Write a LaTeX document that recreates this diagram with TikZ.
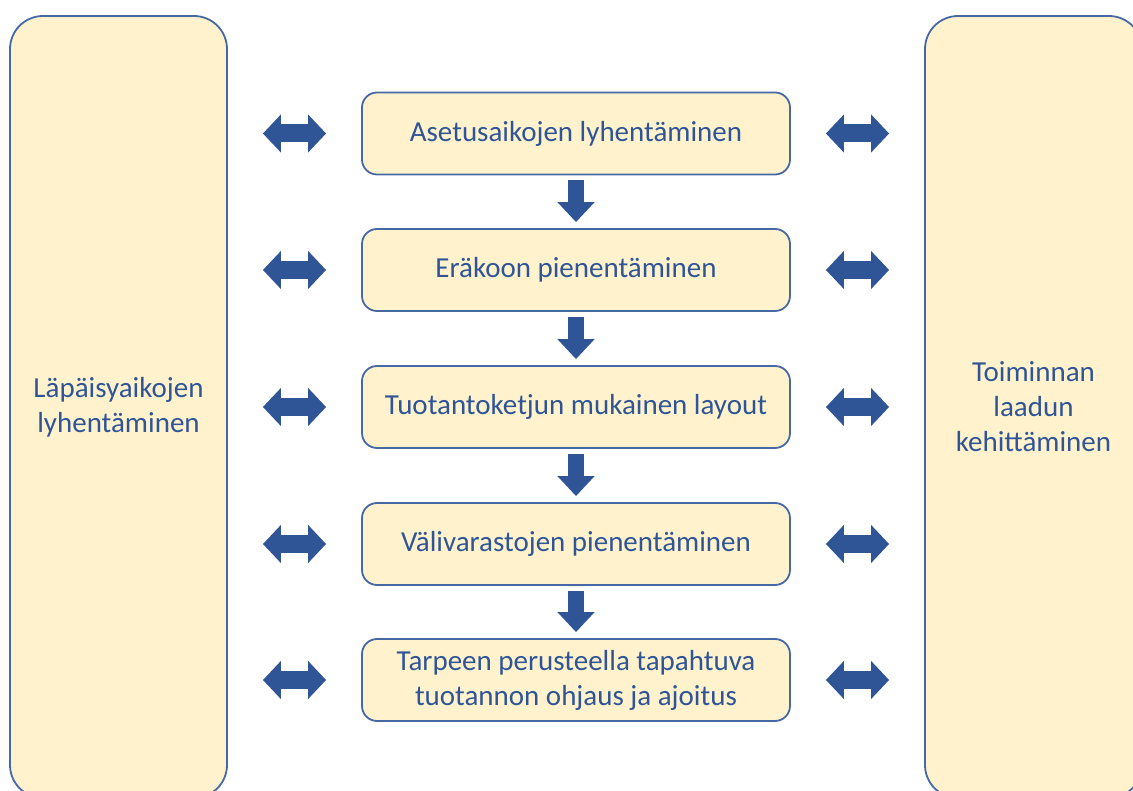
\documentclass[tikz,border=0pt]{standalone}
\usepackage{fontspec}
\setmainfont{Carlito}
\usetikzlibrary{arrows.meta}
\definecolor{boxfill}{HTML}{FFF2CC}
\definecolor{boxline}{RGB}{70,105,165}
\definecolor{txtblue}{HTML}{2F5597}
\definecolor{arrblue}{HTML}{2F5597}
\begin{document}
\begin{tikzpicture}[x=1pt,y=-1pt,
  sidebox/.style={draw=boxline,line width=1.8pt,fill=boxfill,rounded corners=33pt,
    minimum width=217pt,minimum height=782pt,inner sep=0pt,
    text=txtblue,align=center,font=\fontsize{29}{35}\selectfont},
  stepbox/.style={draw=boxline,line width=1.8pt,fill=boxfill,rounded corners=15pt,
    minimum width=428pt,minimum height=82pt,inner sep=0pt,
    text=txtblue,align=center,font=\fontsize{29}{35}\selectfont},
  downarrow/.style={draw=arrblue,line width=16pt,
    -{Triangle[width=36pt,length=20pt]},shorten <=5pt,shorten >=6pt},
  twoway/.style={draw=arrblue,line width=18pt,
    {Triangle[width=37pt,length=18pt]}-{Triangle[width=37pt,length=18pt]},
    shorten <=35pt,shorten >=35pt}]
\useasboundingbox (0,0) rectangle (1133,791);

% side columns
\node[sidebox] (L) at (118.5,407) {Läpäisyaikojen\\lyhentäminen};
\node[sidebox] (R) at (1033.5,407) {Toiminnan\\laadun\\kehittäminen};

% steps in the middle column
\node[stepbox] (b1) at (576,133.5) {Asetusaikojen lyhentäminen};
\node[stepbox] (b2) at (576,270) {Eräkoon pienentäminen};
\node[stepbox] (b3) at (576,407) {Tuotantoketjun mukainen layout};
\node[stepbox] (b4) at (576,544) {Välivarastojen pienentäminen};
\node[stepbox] (b5) at (576,680) {Tarpeen perusteella tapahtuva\\tuotannon ohjaus ja ajoitus};

% downward flow
\foreach \a/\b in {b1/b2,b2/b3,b3/b4,b4/b5}
  \draw[downarrow] (\a.south) -- (\b.north);

% two-way links to the side columns
\foreach \b in {b1,b2,b3,b4,b5} {
  \draw[twoway] (L.east |- \b.west) -- (\b.west);
  \draw[twoway] (\b.east) -- (R.west |- \b.east);
}
\end{tikzpicture}
\end{document}
